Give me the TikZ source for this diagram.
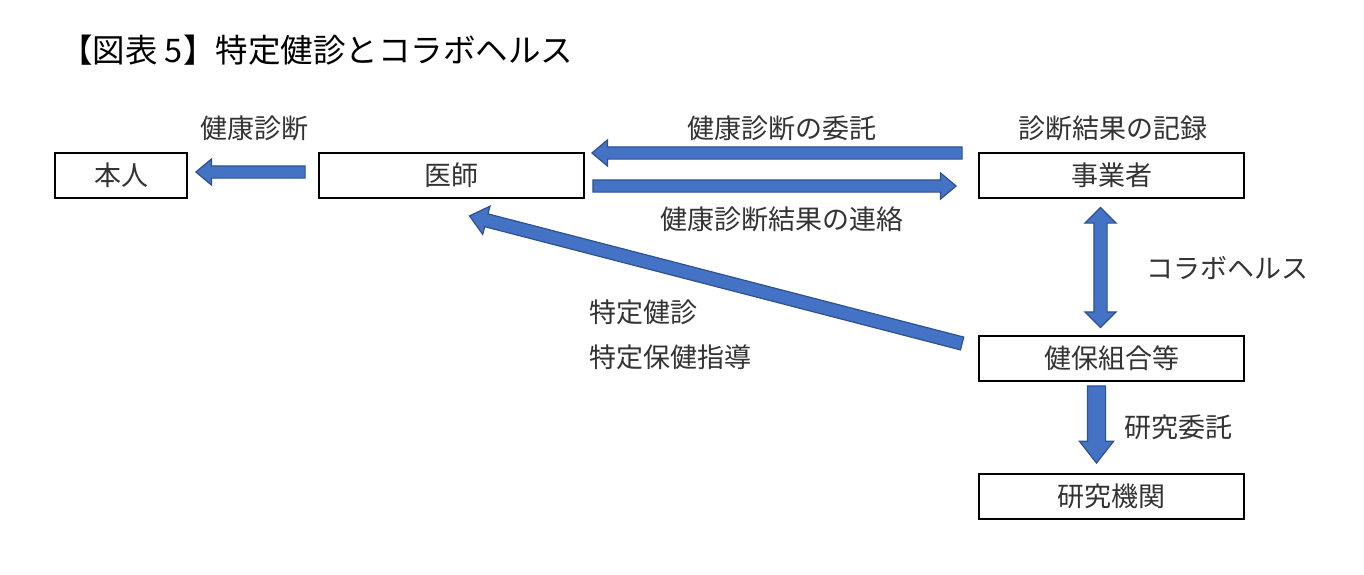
\documentclass[tikz,border=0pt]{standalone}
\usepackage{fontspec}
\setmainfont{Noto Sans CJK JP}
\usetikzlibrary{shapes.arrows,calc}
\definecolor{afill}{HTML}{4472C4}
\definecolor{aline}{HTML}{2F528F}
\definecolor{txt}{HTML}{333333}
\newcommand{\blockarr}[3]{%
  \path let \p1=(#2), \p2=(#3), \n1={atan2(\y2-\y1,\x2-\x1)}, \n2={veclen(\x2-\x1,\y2-\y1)} in
  node[#1, minimum height=\n2, rotate=\n1, anchor=tail] at (\p1) {};}
\begin{document}
\begin{tikzpicture}[x=1pt,y=-1pt,
  box/.style={draw=black, line width=1.8pt, minimum width=265pt, minimum height=45pt, inner sep=0, text=txt, font=\fontsize{27}{27}\selectfont},
  lbl/.style={inner sep=0, text=txt, font=\fontsize{27}{27}\selectfont},
  barrow/.style={single arrow, fill=afill, draw=aline, line width=1.2pt, inner sep=0pt, inner ysep=5.5pt, outer sep=0pt, single arrow head extend=7pt, single arrow tip angle=80},
  bigarrow/.style={barrow, inner ysep=8.5pt, single arrow head extend=8pt, single arrow tip angle=76},
  dblarrow/.style={double arrow, fill=afill, draw=aline, line width=1.2pt, inner sep=0pt, inner ysep=6pt, outer sep=0pt, double arrow head extend=9pt, double arrow tip angle=90}]
\useasboundingbox[fill=white] (0,0) rectangle (1364,574);

% title
\node[inner sep=0, anchor=west, font=\fontsize{32.5}{32.5}\selectfont] (title) at (60,50) {【図表 5】特定健診とコラボヘルス};

% boxes
\node[box, minimum width=132pt] (honnin) at (121,175.5) {本人};
\node[box] (ishi) at (451.5,175.5) {医師};
\node[box] (jigyo) at (1111.5,175.5) {事業者};
\node[box] (kenpo) at (1111.5,358.5) {健保組合等};
\node[box] (kenkyu) at (1111.5,496.5) {研究機関};

% labels
\node[lbl] (l1) at (254,128) {健康診断};
\node[lbl] (l2) at (782,128) {健康診断の委託};
\node[lbl] (l3) at (1113,128) {診断結果の記録};
\node[lbl] (l4) at (782,219) {健康診断結果の連絡};
\node[lbl, anchor=west] (l5) at (1146,268) {コラボヘルス};
\node[lbl, anchor=west] (l6) at (589,312) {特定健診};
\node[lbl, anchor=west] (l7) at (589,357) {特定保健指導};
\node[lbl, anchor=west] (l8) at (1124,427) {研究委託};

% arrow end points
\coordinate (a1s) at ($(ishi.west)+(-13,-3.5)$);
\coordinate (a1e) at ($(honnin.east)+(8,-3.5)$);
\coordinate (a2s) at ($(jigyo.west)+(-16,-22.5)$);
\coordinate (a2e) at ($(ishi.east)+(7,-22.5)$);
\coordinate (a3s) at ($(ishi.east)+(8,10.5)$);
\coordinate (a3e) at ($(jigyo.west)+(-22,10.5)$);
\coordinate (a4s) at ($(kenpo.west)+(-16,-15)$);
\coordinate (a4e) at ($(ishi.south)+(18,17)$);
\coordinate (a5s) at ($(jigyo.south)+(-11,10)$);
\coordinate (a5e) at ($(kenpo.north)+(-11,-9)$);
\coordinate (a6s) at ($(kenpo.south)+(-15,4)$);
\coordinate (a6e) at ($(kenkyu.north)+(-15,-10)$);

\blockarr{barrow}{a1s}{a1e}
\blockarr{barrow}{a2s}{a2e}
\blockarr{barrow}{a3s}{a3e}
\blockarr{barrow, inner ysep=6pt, single arrow head extend=8pt}{a4s}{a4e}
\blockarr{bigarrow}{a6s}{a6e}
\node[dblarrow, minimum height=120pt, rotate=90] (a5) at ($(a5s)!0.5!(a5e)$) {};
\end{tikzpicture}
\end{document}
